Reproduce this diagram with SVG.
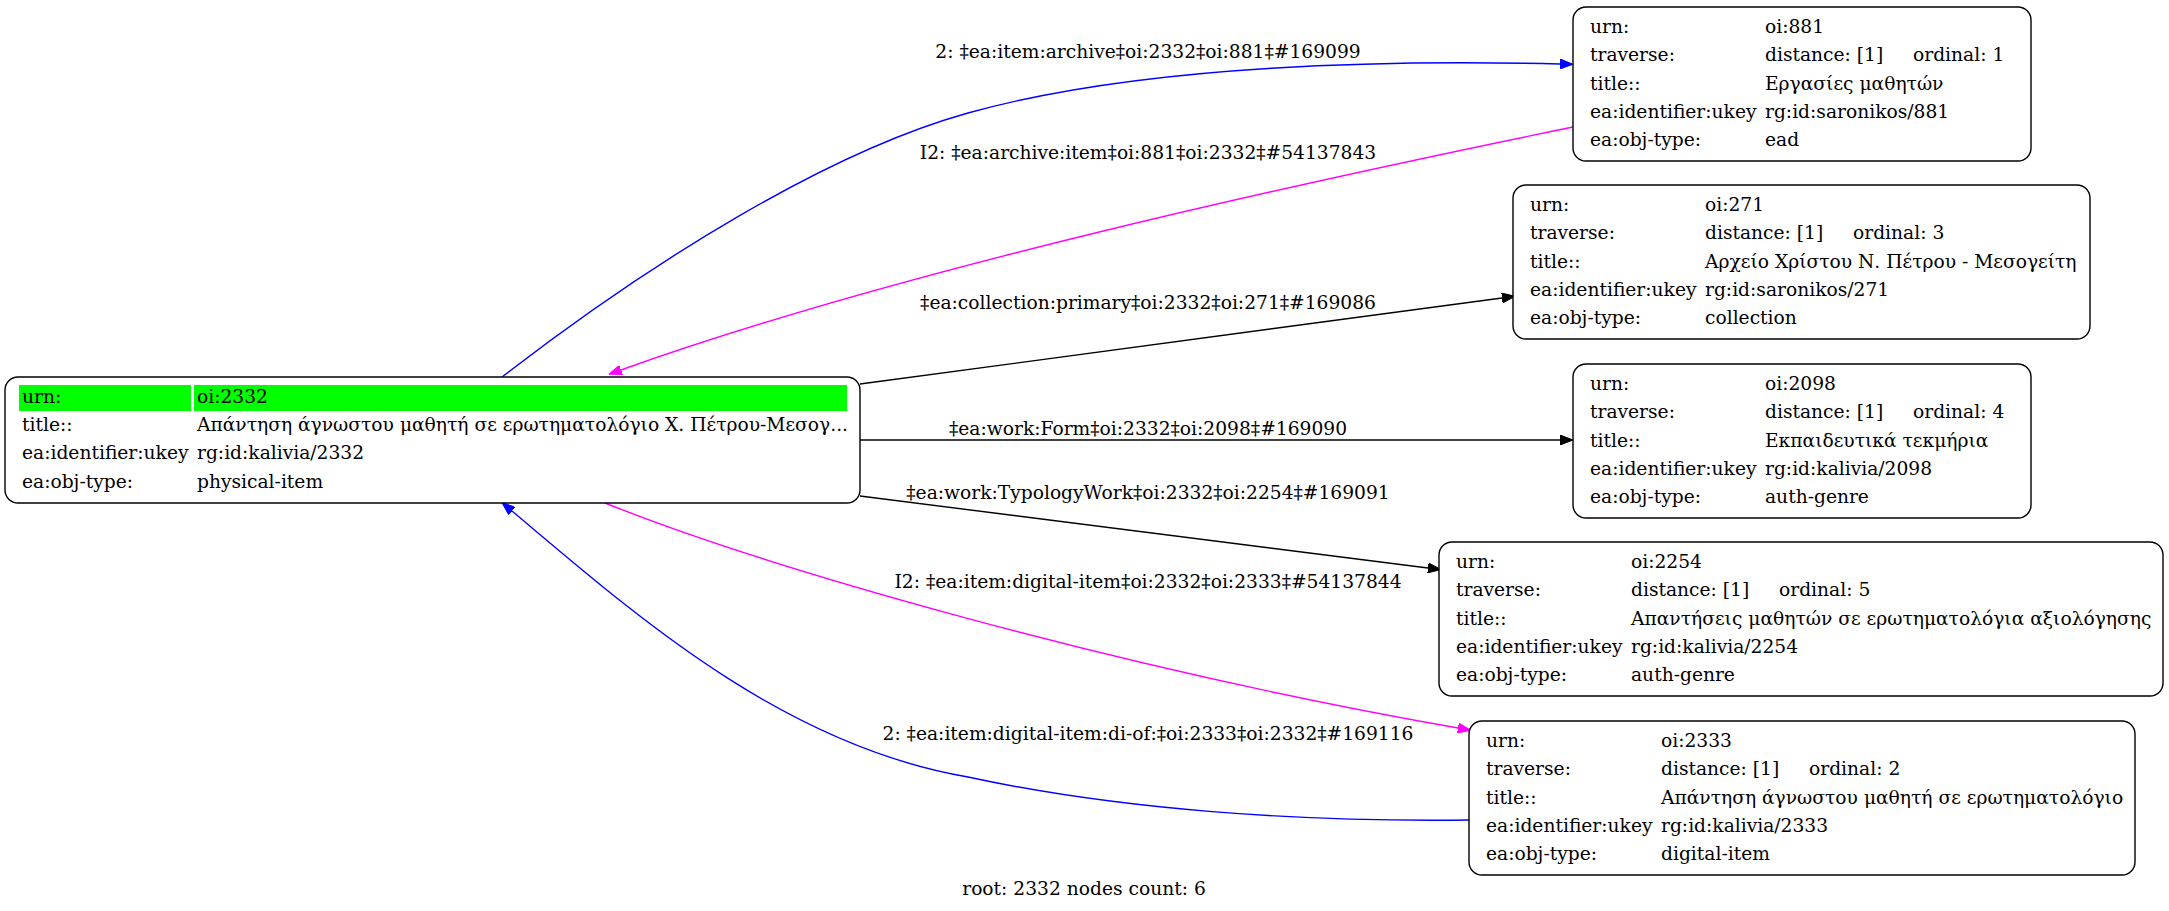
<svg xmlns="http://www.w3.org/2000/svg" width="2169" height="911" viewBox="0 0 2169 911">
<style>
text{font-family:"DejaVu Serif","Liberation Serif",serif;font-size:18.67px;fill:#000}
.box{fill:#fff;stroke:#000;stroke-width:1.4}
.e{fill:none;stroke-width:1.4}
.blk{stroke:#000}
.blu{stroke:#0000ff}
.mag{stroke:#ff00ff}
.lbl{text-anchor:middle}
</style>
<defs>
<marker id="ab" viewBox="0 0 13 10" refX="0" refY="5" markerWidth="13" markerHeight="10" markerUnits="userSpaceOnUse" orient="auto"><path d="M0,0 L13,5 L0,10 z" fill="#000" stroke="#000"/></marker>
<marker id="au" viewBox="0 0 13 10" refX="0" refY="5" markerWidth="13" markerHeight="10" markerUnits="userSpaceOnUse" orient="auto"><path d="M0,0 L13,5 L0,10 z" fill="#0000ff" stroke="#0000ff"/></marker>
<marker id="am" viewBox="0 0 13 10" refX="0" refY="5" markerWidth="13" markerHeight="10" markerUnits="userSpaceOnUse" orient="auto"><path d="M0,0 L13,5 L0,10 z" fill="#ff00ff" stroke="#ff00ff"/></marker>
</defs>
<rect width="2169" height="911" fill="#fff"/>
<g id="edges">
<path class="e blu" d="M502,377 C652,261 828,152 968,113 C1148,63 1400,60 1560,64" marker-end="url(#au)"/>
<text class="lbl" x="1148" y="58">2: ‡ea:item:archive‡oi:2332‡oi:881‡#169099</text>
<path class="e mag" d="M1573,127 C1300,183 900,270 621,370" marker-end="url(#am)"/>
<text class="lbl" x="1148" y="159">I2: ‡ea:archive:item‡oi:881‡oi:2332‡#54137843</text>
<path class="e blk" d="M860,384 L1502,298" marker-end="url(#ab)"/>
<text class="lbl" x="1148" y="309">‡ea:collection:primary‡oi:2332‡oi:271‡#169086</text>
<path class="e blk" d="M860,440 L1560,440" marker-end="url(#ab)"/>
<text class="lbl" x="1148" y="435">‡ea:work:Form‡oi:2332‡oi:2098‡#169090</text>
<path class="e blk" d="M860,496 L1428,568" marker-end="url(#ab)"/>
<text class="lbl" x="1148" y="499">‡ea:work:TypologyWork‡oi:2332‡oi:2254‡#169091</text>
<path class="e mag" d="M605,503 C760,565 1100,665 1458,728" marker-end="url(#am)"/>
<text class="lbl" x="1148" y="588">I2: ‡ea:item:digital-item‡oi:2332‡oi:2333‡#54137844</text>
<path class="e blu" d="M1469,820 C1300,822 1120,810 968,777 C780,745 630,610 512,511" marker-end="url(#au)"/>
<text class="lbl" x="1148" y="740">2: ‡ea:item:digital-item:di-of:‡oi:2333‡oi:2332‡#169116</text>
</g>
<g id="n2332">
<rect class="box" x="5" y="377" width="855" height="126" rx="13"/>
<rect x="19" y="385" width="172" height="26" fill="#00ff00"/>
<rect x="194" y="385" width="653" height="26" fill="#00ff00"/>
<text x="22" y="403">urn:</text><text x="197" y="403">oi:2332</text>
<text x="22" y="431">title::</text><text x="197" y="431">Απάντηση άγνωστου μαθητή σε ερωτηματολόγιο Χ. Πέτρου-Μεσογ...</text>
<text x="22" y="459">ea:identifier:ukey</text><text x="197" y="459">rg:id:kalivia/2332</text>
<text x="22" y="488">ea:obj-type:</text><text x="197" y="488">physical-item</text>
</g>
<g id="n881">
<rect class="box" x="1573" y="7" width="458" height="154" rx="13"/>
<text x="1590" y="33">urn:</text><text x="1765" y="33">oi:881</text>
<text x="1590" y="61">traverse:</text><text x="1765" y="61">distance: [1]</text><text x="1913" y="61">ordinal: 1</text>
<text x="1590" y="90">title::</text><text x="1765" y="90">Εργασίες μαθητών</text>
<text x="1590" y="118">ea:identifier:ukey</text><text x="1765" y="118">rg:id:saronikos/881</text>
<text x="1590" y="146">ea:obj-type:</text><text x="1765" y="146">ead</text>
</g>
<g id="n271">
<rect class="box" x="1513" y="185" width="577" height="154" rx="13"/>
<text x="1530" y="211">urn:</text><text x="1705" y="211">oi:271</text>
<text x="1530" y="239">traverse:</text><text x="1705" y="239">distance: [1]</text><text x="1853" y="239">ordinal: 3</text>
<text x="1530" y="268">title::</text><text x="1705" y="268">Αρχείο Χρίστου Ν. Πέτρου - Μεσογείτη</text>
<text x="1530" y="296">ea:identifier:ukey</text><text x="1705" y="296">rg:id:saronikos/271</text>
<text x="1530" y="324">ea:obj-type:</text><text x="1705" y="324">collection</text>
</g>
<g id="n2098">
<rect class="box" x="1573" y="364" width="458" height="154" rx="13"/>
<text x="1590" y="390">urn:</text><text x="1765" y="390">oi:2098</text>
<text x="1590" y="418">traverse:</text><text x="1765" y="418">distance: [1]</text><text x="1913" y="418">ordinal: 4</text>
<text x="1590" y="447">title::</text><text x="1765" y="447">Εκπαιδευτικά τεκμήρια</text>
<text x="1590" y="475">ea:identifier:ukey</text><text x="1765" y="475">rg:id:kalivia/2098</text>
<text x="1590" y="503">ea:obj-type:</text><text x="1765" y="503">auth-genre</text>
</g>
<g id="n2254">
<rect class="box" x="1439" y="542" width="724" height="154" rx="13"/>
<text x="1456" y="568">urn:</text><text x="1631" y="568">oi:2254</text>
<text x="1456" y="596">traverse:</text><text x="1631" y="596">distance: [1]</text><text x="1779" y="596">ordinal: 5</text>
<text x="1456" y="625">title::</text><text x="1631" y="625">Απαντήσεις μαθητών σε ερωτηματολόγια αξιολόγησης</text>
<text x="1456" y="653">ea:identifier:ukey</text><text x="1631" y="653">rg:id:kalivia/2254</text>
<text x="1456" y="681">ea:obj-type:</text><text x="1631" y="681">auth-genre</text>
</g>
<g id="n2333">
<rect class="box" x="1469" y="721" width="666" height="154" rx="13"/>
<text x="1486" y="747">urn:</text><text x="1661" y="747">oi:2333</text>
<text x="1486" y="775">traverse:</text><text x="1661" y="775">distance: [1]</text><text x="1809" y="775">ordinal: 2</text>
<text x="1486" y="804">title::</text><text x="1661" y="804">Απάντηση άγνωστου μαθητή σε ερωτηματολόγιο</text>
<text x="1486" y="832">ea:identifier:ukey</text><text x="1661" y="832">rg:id:kalivia/2333</text>
<text x="1486" y="860">ea:obj-type:</text><text x="1661" y="860">digital-item</text>
</g>
<text class="lbl" x="1084" y="895">root: 2332 nodes count: 6</text>
</svg>
